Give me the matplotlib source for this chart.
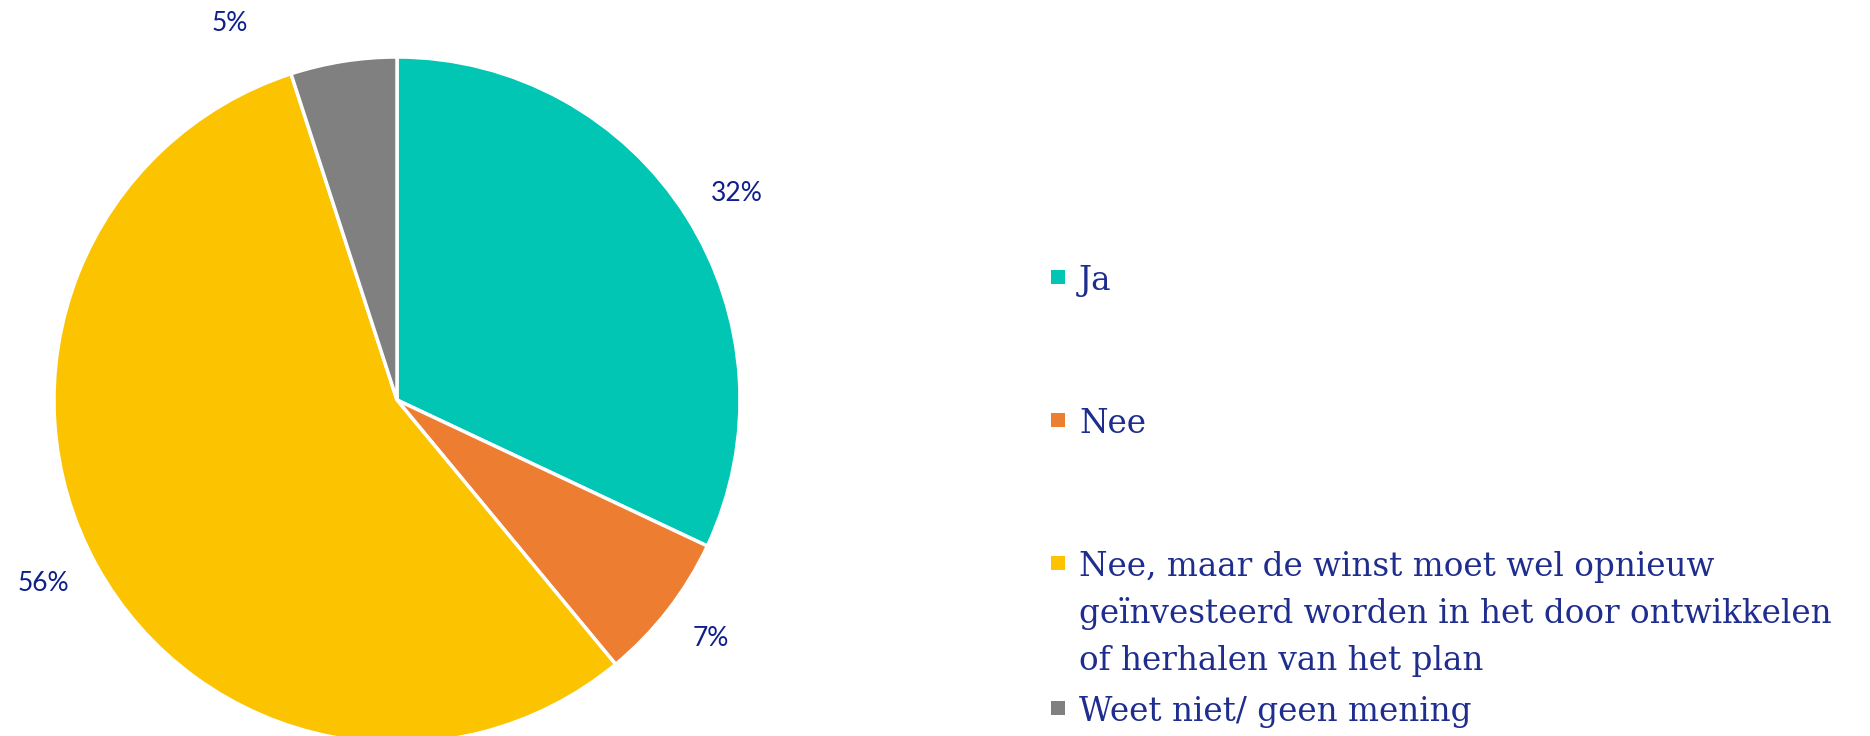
import numpy as np
import matplotlib
matplotlib.use("Agg")
import matplotlib.pyplot as plt
from matplotlib.patches import Rectangle

categories = ["Ja", "Nee",
              "Nee, maar de winst moet wel opnieuw\ngeïnvesteerd worden in het door ontwikkelen\nof herhalen van het plan",
              "Weet niet/ geen mening"]
values = [32, 7, 56, 5]
colors = ["#00C6B3", "#ED7D31", "#FBC300", "#808080"]

label_color = "#0F1F8C"
legend_color = "#1F2D8F"

# where the percentage labels sit (degrees, radius multiples)
label_angles = [31.3, -37.2, -152.6, 114]
label_dist = [1.16, 1.15, 1.16, 1.2]

W, H = 1870, 736
fig = plt.figure(figsize=(W / 100, H / 100), dpi=100)

# pie axes: centre at (397, 400) px from top, radius 343 px
r_px = 343
lim = 1.3
side = 2 * lim * r_px
cx, cy = 397, H - 400
ax = fig.add_axes([(cx - side / 2) / W, (cy - side / 2) / H, side / W, side / H])

wedges, texts, autotexts = ax.pie(values, colors=colors, startangle=90, counterclock=False,
                                  autopct="%1.0f%%", pctdistance=1.16,
                                  wedgeprops=dict(edgecolor="white", linewidth=2.5),
                                  textprops=dict(color=label_color, fontsize=19, family="Lato"))
ax.set_xlim(-lim, lim)
ax.set_ylim(-lim, lim)
ax.set_aspect("equal")

for t, a, d in zip(autotexts, label_angles, label_dist):
    a = np.deg2rad(a)
    t.set_position((d * np.cos(a), d * np.sin(a)))

# legend drawn by hand so entries keep an even top spacing
baselines = [290, 433, 576, 721]
for lab, col, yb in zip(categories, colors, baselines):
    fig.add_artist(Rectangle((1051 / W, (H - yb + 6) / H), 14 / W, 14 / H,
                             transform=fig.transFigure, facecolor=col, edgecolor="none"))
    for i, line in enumerate(lab.split("\n")):
        fig.text(1079 / W, (H - yb - 47 * i) / H, line, color=legend_color,
                 fontsize=23.5, family="DejaVu Serif", va="baseline", ha="left")

fig.savefig("out.png", dpi=100)
